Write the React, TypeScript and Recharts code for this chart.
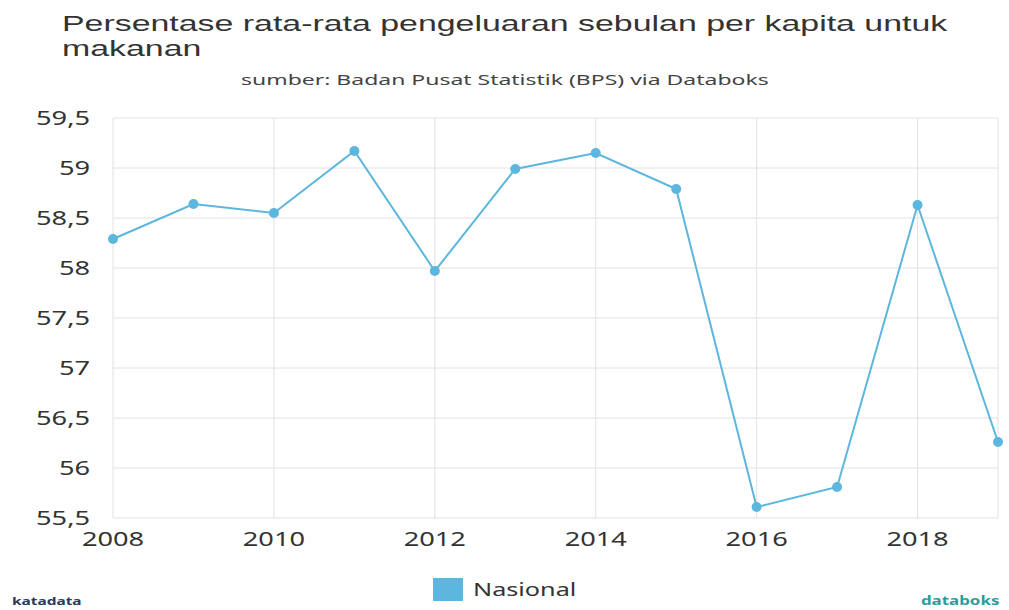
import React from "react";
import {
  LineChart,
  Line,
  XAxis,
  YAxis,
  CartesianGrid,
} from "recharts";

const years = [2008, 2009, 2010, 2011, 2012, 2013, 2014, 2015, 2016, 2017, 2018, 2019];
const nasional = [58.29, 58.64, 58.55, 59.17, 57.97, 58.99, 59.15, 58.79, 55.61, 55.81, 58.63, 56.26];
const xTicks = [2008, 2010, 2012, 2014, 2016, 2018];
const yTicks = [55.5, 56, 56.5, 57, 57.5, 58, 58.5, 59, 59.5];

const lineColor = "#5cb6dd";
const font = "'Noto Sans', sans-serif";
const stretch = 1.36;

const fmt = (v: number) => String(v).replace(".", ",");

// the reference text is stretched wide, so ticks are scaled on x
const XTick = (props: any) => {
  const { x, y, payload } = props;
  return (
    <g transform={`translate(${x},${y}) scale(${stretch},1)`}>
      <text x={0} y={0} dy={15} textAnchor="middle" fontSize={20} fill="#333" fontFamily={font}>
        {payload.value}
      </text>
    </g>
  );
};

const YTick = (props: any) => {
  const { x, y, payload } = props;
  return (
    <g transform={`translate(${x},${y}) scale(${stretch},1)`}>
      <text x={0} y={0} dy={7} textAnchor="end" fontSize={20} fill="#333" fontFamily={font}>
        {fmt(payload.value)}
      </text>
    </g>
  );
};

const titleLine = {
  position: "absolute" as const,
  left: 62,
  fontFamily: "'Liberation Sans', Arial, sans-serif",
  fontSize: 22,
  lineHeight: "25px",
  height: 25,
  color: "#333",
  whiteSpace: "nowrap" as const,
  transform: "scaleX(1.54)",
  transformOrigin: "left top",
};

export default function App() {
  const data = years.map((y, i) => ({ year: y, Nasional: nasional[i] }));

  return (
    <div style={{ position: "absolute", left: 0, top: 0, width: 1009, height: 610, background: "#fff", fontFamily: font, overflow: "hidden" }}>
      <div style={{ ...titleLine, top: 11 }}>Persentase rata-rata pengeluaran sebulan per kapita untuk</div>
      <div style={{ ...titleLine, top: 36 }}>makanan</div>
      <div style={{ position: "absolute", left: 0, width: 1009, top: 68, textAlign: "center" }}>
        <span style={{ display: "inline-block", fontSize: 14, color: "#444", transform: "scaleX(1.64)" }}>
          sumber: Badan Pusat Statistik (BPS) via Databoks
        </span>
      </div>
      <LineChart
        width={1009}
        height={610}
        data={data}
        margin={{ top: 118, right: 11, left: 13, bottom: 62 }}
      >
        <CartesianGrid stroke="#e2e2e2" />
        <XAxis
          dataKey="year"
          type="number"
          domain={[2008, 2019]}
          ticks={xTicks}
          axisLine={false}
          tickLine={false}
          tickSize={0}
          tickMargin={13}
          height={30}
          tick={<XTick />}
        />
        <YAxis
          domain={[55.5, 59.5]}
          ticks={yTicks}
          axisLine={false}
          tickLine={false}
          tickSize={0}
          tickMargin={23}
          width={100}
          tick={<YTick />}
        />
        <Line
          type="linear"
          dataKey="Nasional"
          stroke={lineColor}
          strokeWidth={2}
          dot={{ r: 5, fill: lineColor, stroke: lineColor, strokeWidth: 0 }}
          isAnimationActive={false}
        />
      </LineChart>
      <div style={{ position: "absolute", left: 433, top: 577, display: "flex", alignItems: "center" }}>
        <span style={{ width: 30, height: 23, background: lineColor, display: "inline-block", marginRight: 10 }} />
        <span style={{ display: "inline-block", fontSize: 18, color: "#333", transform: "scaleX(1.4)", transformOrigin: "left center" }}>
          Nasional
        </span>
      </div>
      <div style={{ position: "absolute", left: 12, top: 593, fontSize: 11, fontWeight: 700, color: "#2a3a5a", transform: "scaleX(1.4)", transformOrigin: "left top" }}>
        katadata
      </div>
      <div style={{ position: "absolute", right: 10, top: 591, fontSize: 13, fontWeight: 700, color: "#2a9d9a", transform: "scaleX(1.3)", transformOrigin: "right top" }}>
        databoks
      </div>
    </div>
  );
}
